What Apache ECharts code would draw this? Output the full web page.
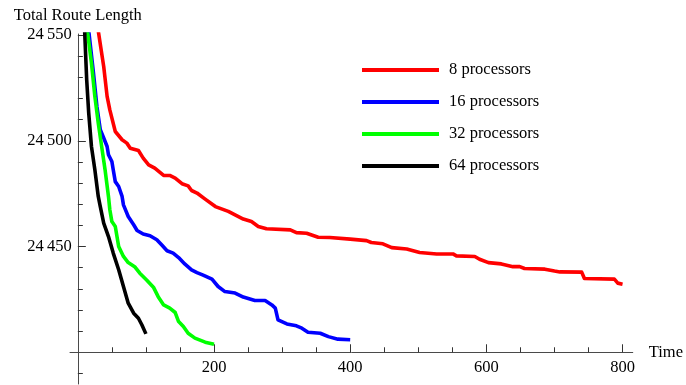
<!DOCTYPE html>
<html>
<head>
<meta charset="utf-8">
<script src="https://cdn.jsdelivr.net/npm/echarts@6/dist/echarts.min.js"></script>
<style>
html,body{margin:0;padding:0;background:#fff;}
#chart{width:686px;height:385px;}
</style>
</head>
<body>
<div id="chart"></div>
<script>
// ---- data ----
const seriesNames = ['8 processors', '16 processors', '32 processors', '64 processors'];

const time8 = [30, 38, 43, 47, 55, 65, 72, 77, 89, 96, 104, 113, 126, 135, 143, 153, 162, 167, 175, 187, 202, 221, 243, 255, 265, 277, 312, 321, 336, 353, 370, 400, 424, 431, 448, 461, 483, 502, 527, 551, 556, 583, 590, 603, 622, 639, 649, 656, 686, 700, 708, 740, 744, 788, 793, 800];
const length8 = [24552, 24535.1, 24521.0, 24514.6, 24504.4, 24500.5, 24498.9, 24496.5, 24495.4, 24491.8, 24488.6, 24487.1, 24483.6, 24483.6, 24482.4, 24479.7, 24478.7, 24476.5, 24475.3, 24472.4, 24468.9, 24466.6, 24463.0, 24461.8, 24459.5, 24458.4, 24457.9, 24456.6, 24456.3, 24454.4, 24454.3, 24453.5, 24452.8, 24451.9, 24451.3, 24449.5, 24448.8, 24447.2, 24446.5, 24446.5, 24445.6, 24445.3, 24444.0, 24442.4, 24441.8, 24440.5, 24440.5, 24439.6, 24439.3, 24438.4, 24438.0, 24437.9, 24434.9, 24434.6, 24432.7, 24432.2];

const time16 = [16, 23, 28, 33, 38, 43, 45, 50, 52, 55, 60, 65, 67, 74, 82, 87, 96, 106, 116, 123, 131, 140, 148, 157, 167, 175, 184, 197, 206, 216, 231, 243, 260, 275, 285, 290, 294, 307, 321, 329, 338, 356, 368, 382, 400];
const length16 = [24552, 24532.0, 24516.2, 24505.2, 24501.3, 24497.3, 24493.4, 24490.2, 24486.3, 24480.7, 24478.4, 24473.7, 24469.7, 24464.2, 24460.3, 24457.6, 24455.9, 24455.1, 24453.2, 24450.8, 24448.0, 24446.9, 24444.8, 24441.8, 24439.0, 24437.7, 24436.5, 24434.6, 24431.1, 24428.7, 24428.0, 24426.1, 24424.5, 24424.5, 24422.4, 24420.9, 24415.3, 24413.4, 24412.5, 24411.4, 24409.5, 24409.0, 24407.4, 24406.2, 24405.9];

const time32 = [14, 20, 25, 30, 35, 40, 45, 47, 50, 55, 60, 67, 74, 84, 91, 101, 111, 118, 126, 135, 143, 148, 155, 162, 172, 187, 200];
const length32 = [24552, 24536.8, 24521.0, 24508.4, 24497.3, 24486.3, 24473.7, 24467.4, 24461.8, 24459.5, 24450.0, 24445.3, 24442.4, 24440.3, 24437.4, 24434.2, 24430.8, 24426.3, 24422.4, 24420.9, 24418.8, 24414.5, 24412.2, 24409.0, 24406.7, 24404.8, 24403.8];

const time64 = [10, 13, 16, 20, 25, 30, 33, 38, 45, 52, 60, 67, 74, 82, 89, 94, 100];
const length64 = [24552, 24528.9, 24513.1, 24497.3, 24486.3, 24473.7, 24468.9, 24461.1, 24454.7, 24446.9, 24439.0, 24431.1, 24423.2, 24418.5, 24416.1, 24413.0, 24408.7];

const xMajorTicks = [200, 400, 600, 800];
const xMinorTicks = [50, 100, 150, 250, 300, 350, 450, 500, 550, 650, 700, 750];
const yMajorTicks = [24450, 24500, 24550];
const yMinorTicks = [24390, 24410, 24420, 24430, 24440, 24460, 24470, 24480, 24490, 24510, 24520, 24530, 24540];

// ---- chart ----
const FONT = 'Liberation Serif';
const FS = 16.5;
const AXIS_COLOR = '#4a4a4a';
const TICK_COLOR = '#333';
const X_MIN = -11.5, X_MAX = 815, Y_MIN = 24385, Y_MAX = 24550.5;
const GRID = {left: 70, right: 53, top: 34, bottom: 1};
const gridH = 385 - GRID.top - GRID.bottom;
const gridW = 686 - GRID.left - GRID.right;
const xAxisOffset = -(24400 - Y_MIN) / (Y_MAX - Y_MIN) * gridH;
const yAxisOffset = -(0 - X_MIN) / (X_MAX - X_MIN) * gridW;

const colors = ['#ff0000', '#0000ff', '#00ff00', '#000000'];
const times = [time8, time16, time32, time64];
const lengths = [length8, length16, length32, length64];

const fmtY = v => {
  const s = String(Math.round(v));
  return s.slice(0, 2) + '\u2009' + s.slice(2);
};

function tickAxis(min, max, position, offset, values, len) {
  return {
    type: 'value', min: min, max: max, position: position, offset: offset,
    axisLine: {show: false, onZero: false},
    axisTick: {show: true, inside: true, length: len, customValues: values, lineStyle: {color: TICK_COLOR, width: 1}},
    axisLabel: {show: false},
    splitLine: {show: false}
  };
}

const chart = echarts.init(document.getElementById('chart'), null, {renderer: 'canvas'});
chart.setOption({
  animation: false,
  backgroundColor: '#fff',
  textStyle: {fontFamily: FONT},
  grid: GRID,
  legend: {
    data: seriesNames,
    orient: 'vertical',
    left: 362,
    top: 54,
    padding: 0,
    itemGap: 0,
    icon: 'rect',
    itemWidth: 77,
    itemHeight: 4,
    textStyle: {fontFamily: FONT, fontSize: FS, color: '#000', lineHeight: 18, padding: [0, 0, 14, 5]}
  },
  xAxis: [{
    type: 'value', min: X_MIN, max: X_MAX, position: 'bottom', offset: xAxisOffset,
    name: 'Time', nameLocation: 'end', nameGap: 16,
    nameTextStyle: {fontFamily: FONT, fontSize: FS, color: '#000'},
    axisLine: {show: true, onZero: false, lineStyle: {color: AXIS_COLOR, width: 1}},
    axisTick: {show: false},
    axisLabel: {show: true, customValues: xMajorTicks, margin: 7, fontFamily: FONT, fontSize: FS, color: '#000'},
    splitLine: {show: false}
  },
    tickAxis(X_MIN, X_MAX, 'bottom', xAxisOffset, xMajorTicks, 8),
    tickAxis(X_MIN, X_MAX, 'bottom', xAxisOffset, xMinorTicks, 5)
  ],
  yAxis: [{
    type: 'value', min: Y_MIN, max: Y_MAX, position: 'left', offset: yAxisOffset,
    name: 'Total Route Length', nameLocation: 'end', nameGap: 10,
    nameTextStyle: {fontFamily: FONT, fontSize: FS, color: '#000'},
    axisLine: {show: true, onZero: false, lineStyle: {color: AXIS_COLOR, width: 1}},
    axisTick: {show: false},
    axisLabel: {show: true, customValues: yMajorTicks, margin: 6, fontFamily: FONT, fontSize: FS, color: '#000', formatter: fmtY},
    splitLine: {show: false}
  },
    tickAxis(Y_MIN, Y_MAX, 'left', yAxisOffset, yMajorTicks, 8),
    tickAxis(Y_MIN, Y_MAX, 'left', yAxisOffset, yMinorTicks, 5)
  ],
  series: seriesNames.map((name, i) => ({
    name: name,
    type: 'line',
    xAxisIndex: 0,
    yAxisIndex: 0,
    color: colors[i],
    showSymbol: false,
    symbol: 'none',
    clip: true,
    lineStyle: {color: colors[i], width: 3.6, join: 'round', cap: 'butt'},
    itemStyle: {color: colors[i]},
    data: times[i].map((t, k) => [t, lengths[i][k]])
  }))
});
</script>
</body>
</html>
